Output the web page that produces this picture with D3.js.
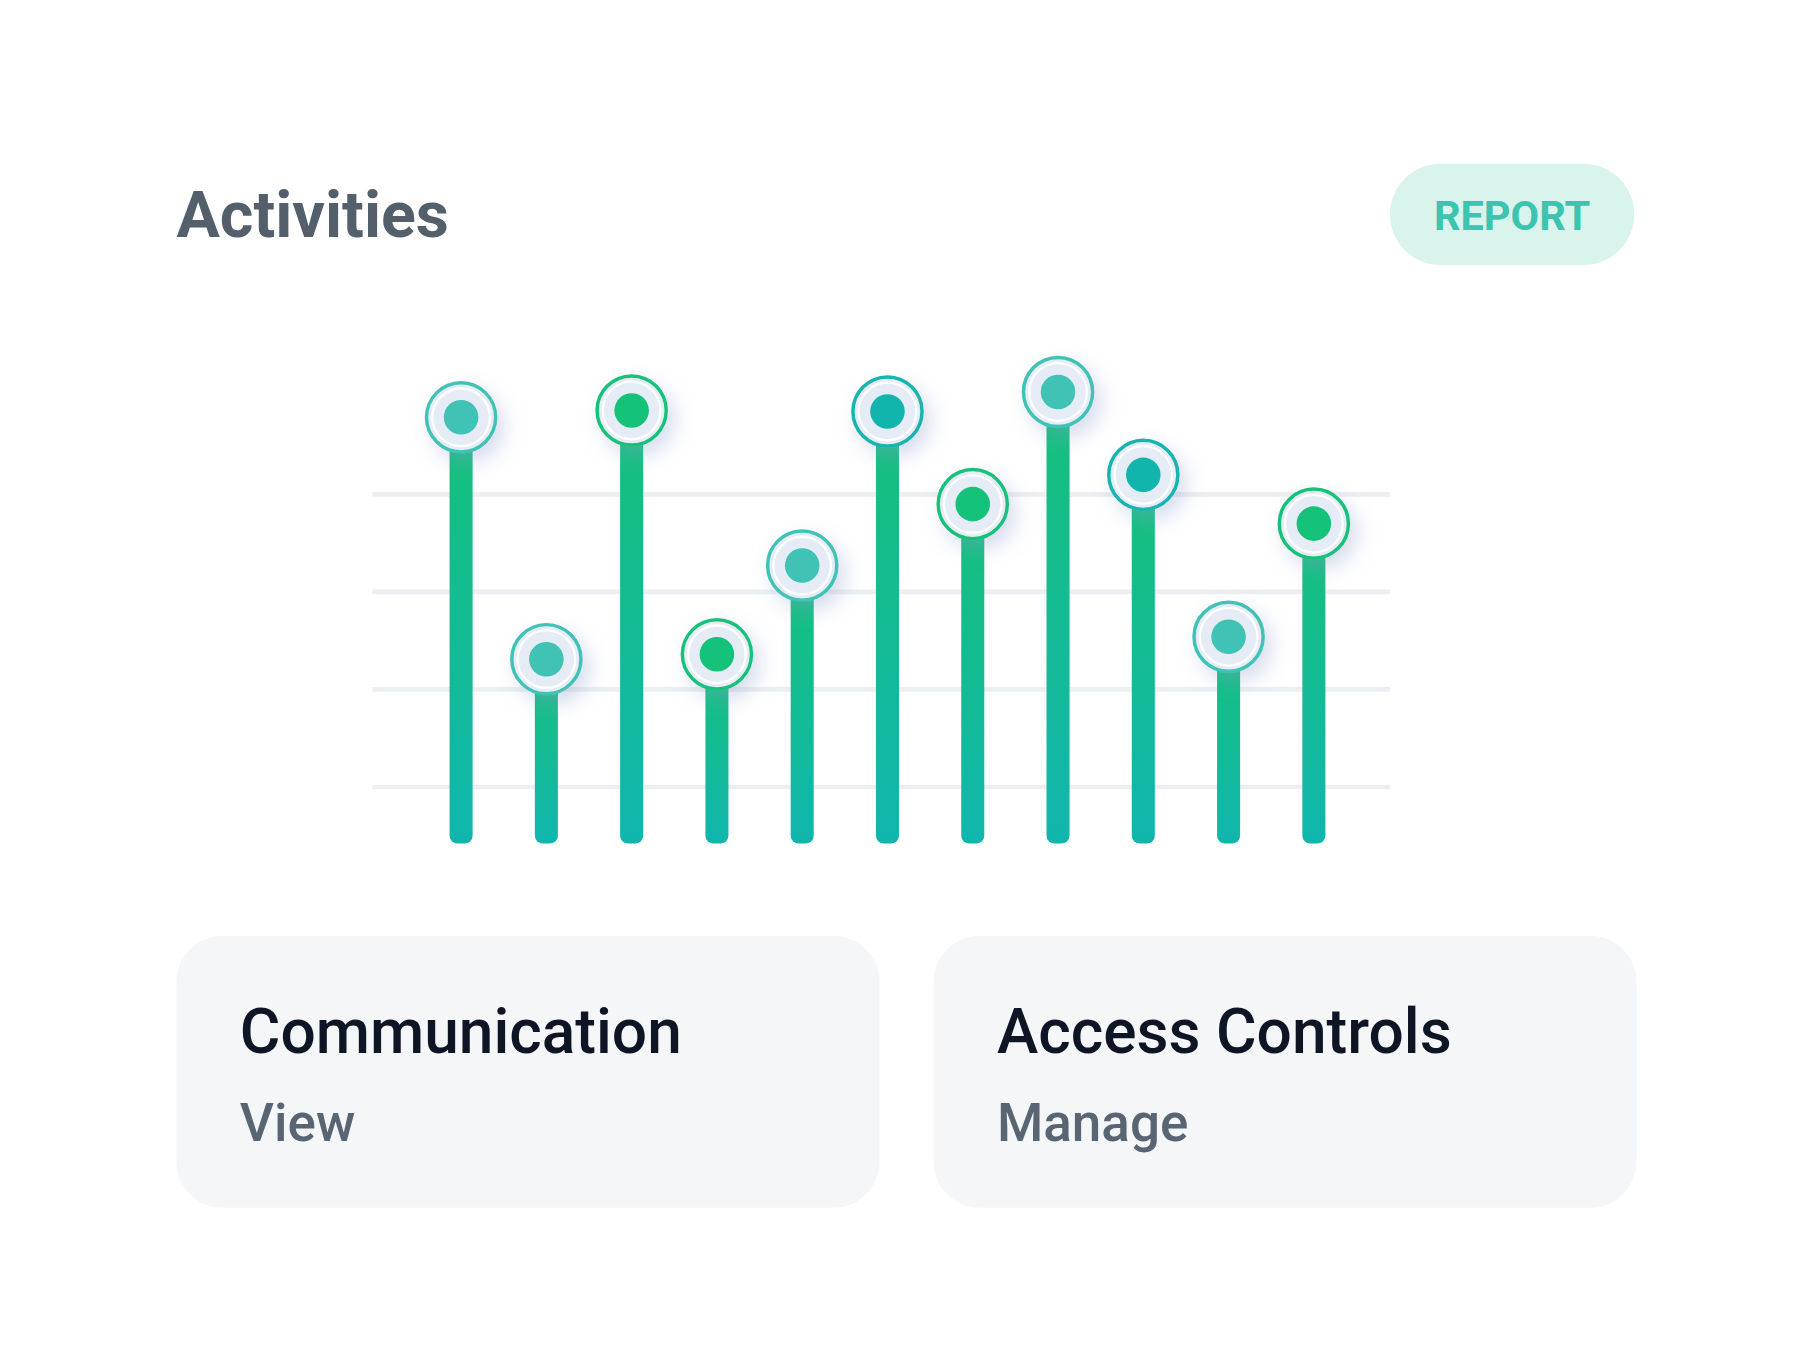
<!DOCTYPE html>
<html><head><meta charset="utf-8">
<script src="https://cdn.jsdelivr.net/npm/d3@7"></script>
<style>body{margin:0;background:#fff}svg{display:block}</style>
</head><body><div id="chart"></div>
<script>
// values (gridlines are 1..4)
const categories = ["A","B","C","D","E","F","G","H","I","J","K"];
const values = [4.79, 2.31, 4.86, 2.36, 3.27, 4.85, 3.9, 5.05, 4.2, 2.54, 3.7];
const dotColors = ["#40c2b4","#40c2b4","#15c27a","#15c27a","#40c2b4","#12b5ae","#15c27a","#40c2b4","#12b5ae","#40c2b4","#15c27a"];
const gridTicks = [1, 2, 3, 4];
const cards = [{title: "Communication", action: "View"}, {title: "Access Controls", action: "Manage"}];

const W = 1560, H = 1168;
const svg = d3.select("#chart").append("svg")
    .attr("width", 1798).attr("height", 1346)
    .attr("viewBox", `0 0 ${W} ${H}`);

const defs = svg.append("defs");
const grad = defs.append("linearGradient").attr("id", "bar").attr("x1", 0).attr("x2", 0).attr("y1", 0).attr("y2", 1);
grad.append("stop").attr("offset", "0%").attr("stop-color", "#16c07a");
grad.append("stop").attr("offset", "100%").attr("stop-color", "#10b6ad");
const sh = defs.append("filter").attr("id", "shadow").attr("x", "-80%").attr("y", "-80%").attr("width", "260%").attr("height", "260%");
sh.append("feDropShadow").attr("dx", 6).attr("dy", 8).attr("stdDeviation", 9)
    .attr("flood-color", "#8a9ccf").attr("flood-opacity", 0.35);

// title + button
svg.append("text").attr("x", 153).attr("y", 206)
    .attr("font-family", "Roboto").attr("font-weight", 700).attr("font-size", 56)
    .attr("fill", "#535f6b").text("Activities");
svg.append("rect").attr("x", 1206).attr("y", 142).attr("width", 212).attr("height", 88)
    .attr("rx", 44).attr("fill", "#d9f4ec");
svg.append("text").attr("x", 1312).attr("y", 200).attr("text-anchor", "middle")
    .attr("font-family", "Roboto").attr("font-weight", 700).attr("font-size", 36)
    .attr("fill", "#3cc4b0").text("REPORT");

// scales
const x = d3.scalePoint().domain(categories).range([400, 1140]);
const y = d3.scaleLinear().domain([0, 4]).range([767.5, 429]);
const barBottom = 732;

svg.append("g").selectAll("line").data(gridTicks).join("line")
    .attr("x1", 323).attr("x2", 1206)
    .attr("y1", d => y(d)).attr("y2", d => y(d))
    .attr("stroke", "#eceef1").attr("stroke-width", 4);

svg.append("g").selectAll("rect").data(values).join("rect")
    .attr("x", (d, i) => x(categories[i]) - 10).attr("width", 20)
    .attr("y", d => y(d)).attr("height", d => barBottom - y(d))
    .attr("rx", 7).attr("fill", "url(#bar)");

const dots = svg.append("g").selectAll("g").data(values).join("g")
    .attr("transform", (d, i) => `translate(${x(categories[i])},${y(d)})`);
dots.append("circle").attr("r", 30).attr("fill", "#e5ecf5")
    .attr("stroke", (d, i) => dotColors[i]).attr("stroke-width", 3).attr("filter", "url(#shadow)");
dots.append("circle").attr("r", 25).attr("fill", "none").attr("stroke", "#fff").attr("stroke-width", 2);
dots.append("circle").attr("r", 15).attr("fill", (d, i) => dotColors[i]);

// cards
const card = svg.append("g").selectAll("g").data(cards).join("g")
    .attr("transform", (d, i) => `translate(${153 + i * 657},812)`);
card.append("rect").attr("width", 610).attr("height", 236).attr("rx", 40).attr("fill", "#f5f6f8");
card.append("text").attr("x", 55).attr("y", 914)
    .attr("transform", "translate(0,-812)")
    .attr("font-family", "Roboto").attr("font-weight", 500).attr("font-size", 54)
    .attr("fill", "#0e1525").text(d => d.title);
card.append("text").attr("x", 55).attr("y", 990)
    .attr("transform", "translate(0,-812)")
    .attr("font-family", "Roboto").attr("font-weight", 500).attr("font-size", 46)
    .attr("fill", "#5a6573").text(d => d.action);
</script></body></html>
